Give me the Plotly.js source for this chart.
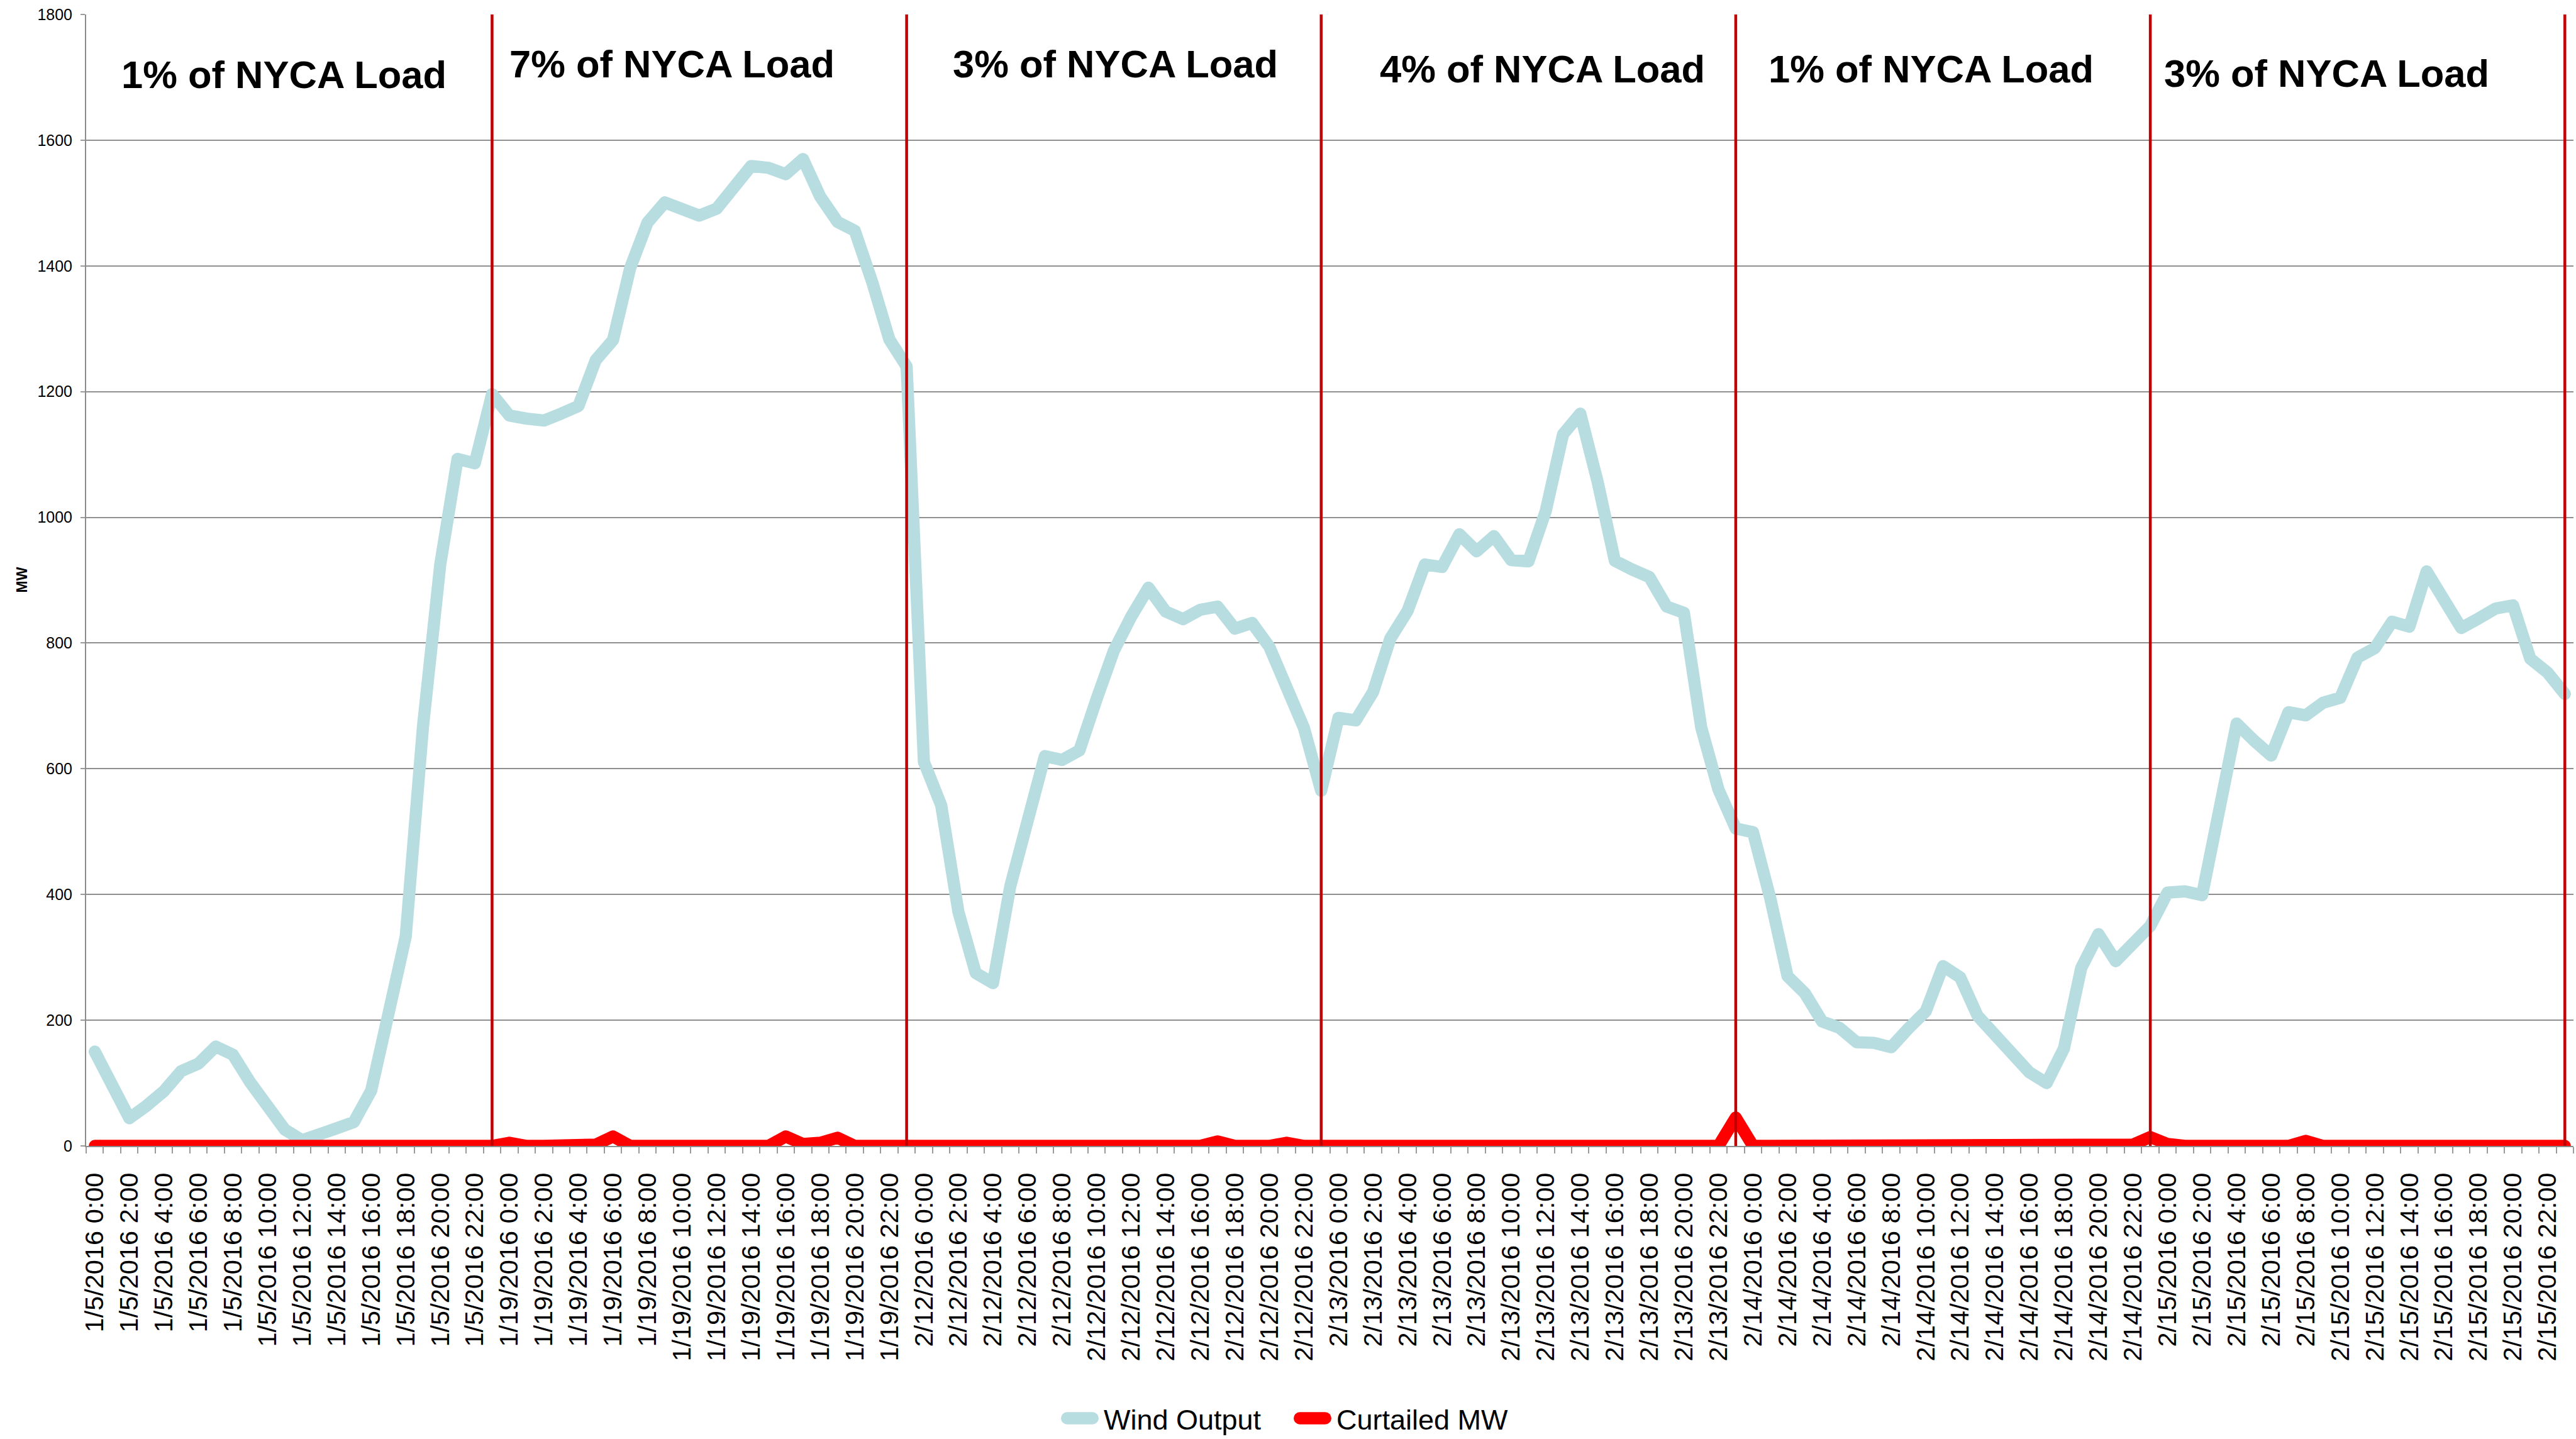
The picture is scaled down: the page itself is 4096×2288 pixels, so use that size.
<!DOCTYPE html>
<html>
<head>
<meta charset="utf-8">
<script src="https://cdn.plot.ly/plotly-3.0.1.min.js"></script>
<style>
html,body{margin:0;padding:0;background:#ffffff;}
#chart{width:4096px;height:2288px;}
</style>
</head>
<body>
<div id="chart"></div>
<script>
// ---------------- data ----------------
const days = ["1/5/2016", "1/19/2016", "2/12/2016", "2/13/2016", "2/14/2016", "2/15/2016"];
const hours = ["0:00","1:00","2:00","3:00","4:00","5:00","6:00","7:00","8:00","9:00","10:00","11:00",
               "12:00","13:00","14:00","15:00","16:00","17:00","18:00","19:00","20:00","21:00","22:00","23:00"];
const categories = [];
days.forEach(function (d) { hours.forEach(function (h) { categories.push(d + " " + h); }); });

const windOutput = [
  // 1/5/2016
  150, 97, 44, 64, 87, 119, 131, 158, 145, 101, 64, 26, 9, 21, 28, 38, 88, 210, 333, 667, 925, 1093, 1086, 1196,
  // 1/19/2016
  1162, 1157, 1154, 1165, 1177, 1250, 1282, 1397, 1469, 1501, 1492, 1480, 1491, 1528, 1559, 1556, 1546, 1570, 1510, 1470, 1456, 1375, 1283, 1240,
  // 2/12/2016
  611, 542, 372, 275, 259, 413, 522, 620, 614, 629, 711, 788, 842, 888, 850, 838, 853, 858, 823, 832, 794, 735, 665, 565,
  // 2/13/2016
  681, 677, 722, 807, 851, 925, 921, 973, 946, 970, 932, 930, 1010, 1132, 1165, 1057, 931, 917, 905, 858, 848, 666, 567, 505,
  // 2/14/2016
  499, 394, 270, 243, 198, 188, 165, 164, 157, 187, 214, 286, 268, 207, 176, 152, 117, 100, 155, 283, 337, 294, 322, 350,
  // 2/15/2016
  403, 405, 399, 543, 672, 645, 621, 690, 685, 705, 713, 777, 792, 834, 826, 914, 866, 824, 839, 855, 860, 775, 753, 719
];

const curtailedMW = [
  // 1/5/2016
  0, 0, 0, 3, 0, 0, 0, 0, 0, 0, 0, 0, 0, 0, 0, 0, 0, 0, 0, 0, 0, 4, 0, 0,
  // 1/19/2016
  5, 0, 0, 0, 0, 2, 15, 0, 0, 0, 0, 0, 0, 0, 0, 0, 15, 3, 5, 13, 0, 0, 1, 0,
  // 2/12/2016
  0, 0, 0, 0, 0, 0, 0, 0, 0, 0, 0, 0, 0, 0, 0, 0, 0, 7, 0, 0, 0, 5, 0, 0,
  // 2/13/2016
  0, 0, 0, 0, 0, 0, 0, 0, 0, 0, 0, 0, 0, 2, 0, 0, 0, 0, 0, 0, 0, 0, 0, 45,
  // 2/14/2016
  0, 0, 0, 0, 0, 0, 0, 0, 0, 0, 0, 0, 0, 0, 0, 0, 0, 0, 0, 0, 0, 0, 2, 14,
  // 2/15/2016
  3, 0, 0, 0, 0, 0, 0, 0, 8, 0, 0, 0, 0, 0, 0, 0, 0, 0, 0, 0, 0, 0, 0, 0
];

const loadShareLabels = ["1% of NYCA Load", "7% of NYCA Load", "3% of NYCA Load",
                         "4% of NYCA Load", "1% of NYCA Load", "3% of NYCA Load"];
const dayEnds = days.map(function (d) { return d + " 23:00"; });
const tickLabels = categories.filter(function (c, i) { return i % 2 === 0; });
const yTicks = [0, 200, 400, 600, 800, 1000, 1200, 1400, 1600, 1800];

// ---------------- chart ----------------
const FONT = "Liberation Sans, Arial, Helvetica, sans-serif";
const LINE_W = 19.4;
const xIndex = categories.map(function (c, i) { return i; });
const tickIdx = tickLabels.map(function (t) { return categories.indexOf(t); });

const traces = [
  {
    name: "Wind Output", type: "scatter", mode: "lines",
    x: xIndex, y: windOutput, text: categories, hovertemplate: "%{text}<br>%{y} MW<extra>Wind Output</extra>",
    line: { color: "#b7dde0", width: LINE_W }
  },
  {
    name: "Curtailed MW", type: "scatter", mode: "lines",
    x: xIndex, y: curtailedMW, text: categories, hovertemplate: "%{text}<br>%{y} MW<extra>Curtailed MW</extra>",
    line: { color: "#ff0000", width: LINE_W }
  }
];

// label placement (index position along the axis, MW height)
const labelPos = [[10.96, 1704], [33.4, 1721], [59.1, 1721], [83.8, 1713], [106.3, 1713], [129.2, 1706]];
const annotations = loadShareLabels.map(function (t, k) {
  return {
    text: t, x: labelPos[k][0], y: labelPos[k][1], xref: "x", yref: "y",
    xanchor: "center", yanchor: "middle", showarrow: false,
    font: { family: FONT, size: 61.5, color: "#000000", weight: "bold" }
  };
});
annotations.push({
  text: "MW", xref: "paper", yref: "paper", x: 0, y: 0.5, xshift: -103,
  xanchor: "center", yanchor: "middle", textangle: -90, showarrow: false,
  font: { family: FONT, size: 23, color: "#000000", weight: "bold" }
});

const shapes = dayEnds.map(function (d) {
  const xi = categories.indexOf(d);
  return {
    type: "line", xref: "x", yref: "y", x0: xi, x1: xi, y0: 0, y1: 1800,
    line: { color: "#c00000", width: 4.5 }, layer: "above"
  };
});

const layout = {
  width: 4096, height: 2288,
  margin: { l: 137, r: 4, t: 23, b: 466, pad: 0 },
  paper_bgcolor: "#ffffff", plot_bgcolor: "#ffffff",
  font: { family: FONT, color: "#000000" },
  showlegend: true,
  legend: {
    orientation: "h", x: 0.3914, xanchor: "left", y: -0.235, yanchor: "middle",
    font: { family: FONT, size: 45, color: "#000000" }, itemwidth: 60, traceorder: "normal",
    entrywidth: 295, entrywidthmode: "pixels",
    bgcolor: "rgba(0,0,0,0)", borderwidth: 0
  },
  xaxis: {
    type: "linear", range: [-0.5, 143.5], fixedrange: true,
    tickmode: "array", tickvals: tickIdx, ticktext: tickLabels, tickangle: -90,
    tickfont: { family: FONT, size: 41.5, color: "#000000" },
    ticks: "", showgrid: false, zeroline: false,
    showline: true, linecolor: "#8c8c8c", linewidth: 2, layer: "below traces",
    minor: { tickmode: "linear", tick0: -0.5, dtick: 1, ticks: "outside", ticklen: 10, tickwidth: 2, tickcolor: "#9a9a9a", showgrid: false },
    ticklabelstandoff: 24
  },
  yaxis: {
    range: [0, 1800], fixedrange: true, tickmode: "array", tickvals: yTicks,
    tickfont: { family: FONT, size: 25, color: "#000000" },
    ticks: "outside", ticklen: 7, tickwidth: 2, tickcolor: "#9a9a9a",
    showgrid: true, gridcolor: "#8f8f8f", gridwidth: 2, zeroline: false,
    showline: true, linecolor: "#8c8c8c", linewidth: 2, ticklabelstandoff: 8
  },
  annotations: annotations,
  shapes: shapes
};

Plotly.newPlot("chart", traces, layout, { staticPlot: true, displayModeBar: false }).then(function () {
  document.querySelectorAll("#chart .js-line").forEach(function (p) {
    p.style.strokeLinecap = "round";
    p.style.strokeLinejoin = "round";
  });
  // thick rounded legend samples ending just before the legend text
  const r = LINE_W / 2;
  document.querySelectorAll("#chart .legend .traces").forEach(function (g) {
    const t = g.querySelector(".legendtext");
    if (!t) return;
    const tx = parseFloat(t.getAttribute("x")) || 40;
    const end = tx - 8 - r;
    const start = end - (60 - 2 * r);
    g.querySelectorAll(".legendlines path").forEach(function (p) {
      p.setAttribute("d", "M" + start + ",0H" + end);
      p.style.strokeWidth = LINE_W + "px";
      p.style.strokeLinecap = "round";
    });
  });
  // place the legend row near the bottom as in the original, keeping its text inside the page
  const leg = document.querySelector("#chart .legend");
  const sample = leg ? leg.querySelector(".legendlines path") : null;
  if (leg && sample) {
    const rc = sample.getBoundingClientRect();
    const dy = 2255 - (rc.top + rc.height / 2);
    const m = /translate\(\s*([-\d.e]+)[\s,]+([-\d.e]+)\s*\)/.exec(leg.getAttribute("transform") || "");
    if (m) leg.setAttribute("transform", "translate(" + m[1] + "," + (parseFloat(m[2]) + dy) + ")");
  }
});
</script>
</body>
</html>
